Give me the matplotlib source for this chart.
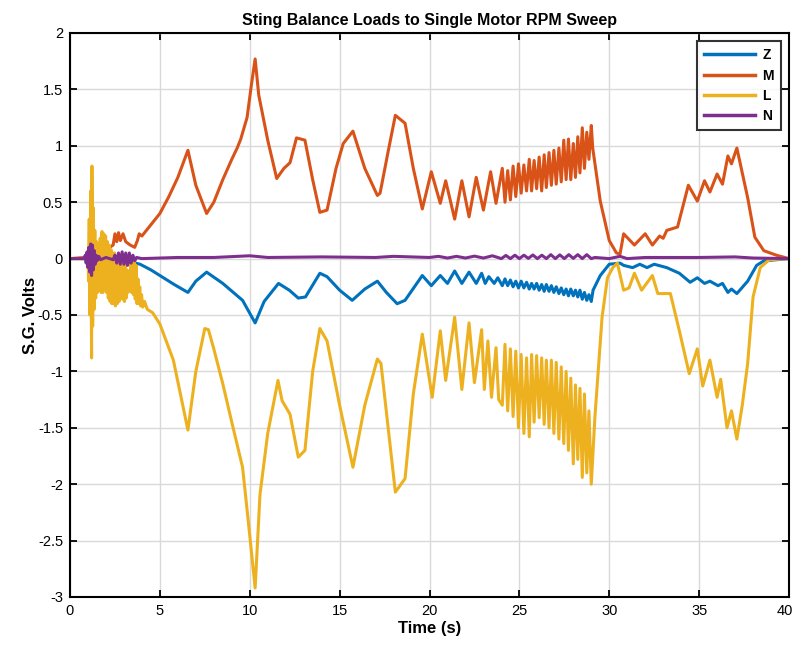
import matplotlib
matplotlib.use("Agg")
import matplotlib.pyplot as plt
from matplotlib.transforms import ScaledTranslation

# ---------------- data ----------------
Z_t = [0, 1.0, 1.1, 1.2, 1.3, 1.5, 2.2, 2.4, 3.0, 3.4, 3.9, 4.5, 5.0, 5.8, 6.56, 7.0, 7.6, 8.5, 9.6, 10.3,
       10.8, 11.6, 12.2, 12.7, 13.1, 13.9, 14.3, 15.0, 15.7, 16.4, 17.1, 17.6, 18.2, 18.64, 19.6, 20.1,
       20.6, 21.0, 21.4, 21.8, 22.2, 22.6, 22.9, 23.1, 23.3, 23.6, 23.8,
       24.05, 24.2, 24.35, 24.5, 24.65, 24.8, 24.95, 25.1, 25.25, 25.4, 25.55, 25.68, 25.82, 25.96,
       26.1, 26.24, 26.38, 26.5, 26.65, 26.78, 26.92, 27.05, 27.2, 27.33, 27.47, 27.6, 27.73, 27.86,
       28.0, 28.12, 28.25, 28.37, 28.5, 28.62, 28.75, 28.87, 29.0, 29.1, 29.5, 30.0, 30.6, 30.8, 31.3,
       31.7, 32.1, 32.5, 33.2, 33.9, 34.5, 34.9, 35.3, 35.6, 36.05, 36.3, 36.6, 36.8, 37.1, 37.7, 38.2,
       38.6, 39.3, 40]
Z_v = [0, 0.0, -0.04, 0.03, -0.02, 0.0, -0.01, -0.06, -0.06, -0.03, -0.05, -0.1, -0.15, -0.23, -0.3, -0.2,
       -0.12, -0.22, -0.37, -0.57, -0.38, -0.22, -0.28, -0.35, -0.34, -0.13, -0.16, -0.28, -0.37, -0.27,
       -0.2, -0.3, -0.4, -0.37, -0.15, -0.24, -0.15, -0.22, -0.11, -0.22, -0.12, -0.22, -0.13, -0.22,
       -0.16, -0.22, -0.17,
       -0.24, -0.18, -0.24, -0.19, -0.25, -0.2, -0.26, -0.2, -0.26, -0.21, -0.27, -0.22, -0.27, -0.22,
       -0.28, -0.23, -0.29, -0.23, -0.29, -0.24, -0.3, -0.25, -0.31, -0.26, -0.32, -0.27, -0.33, -0.27,
       -0.33, -0.28, -0.34, -0.28, -0.36, -0.3, -0.37, -0.32, -0.38, -0.28, -0.15, -0.05, -0.04, -0.06,
       -0.08, -0.05, -0.08, -0.05, -0.08, -0.13, -0.21, -0.17, -0.22, -0.2, -0.24, -0.22, -0.3, -0.27,
       -0.31, -0.2, -0.06, -0.02, -0.01, 0.0]

M_t = [0, 0.8, 1.0, 1.1, 1.2, 1.3, 1.4, 1.6, 1.9, 2.2, 2.4, 2.5, 2.6, 2.7, 2.8, 2.95, 3.1, 3.35, 3.6,
       3.75, 3.85, 4.0, 4.2, 4.5, 5.0, 5.5, 6.0, 6.56, 7.0, 7.6, 8.0, 8.5, 9.0, 9.3, 9.5, 9.85, 10.1,
       10.3, 10.5, 11.0, 11.5, 11.9, 12.24, 12.6, 13.07, 13.5, 13.9, 14.3, 14.8, 15.2, 15.74, 16.4,
       17.1, 17.25, 17.7, 18.1, 18.64, 19.1, 19.6, 20.1, 20.6, 20.9, 21.4, 21.8, 22.2, 22.6, 23.0,
       23.4, 23.7,
       24.05, 24.2, 24.35, 24.5, 24.65, 24.8, 24.95, 25.1, 25.25, 25.4, 25.55, 25.68, 25.82, 25.96,
       26.1, 26.24, 26.38, 26.5, 26.65, 26.78, 26.92, 27.05, 27.2, 27.33, 27.47, 27.6, 27.73, 27.86,
       28.0, 28.12, 28.25, 28.37, 28.5, 28.62, 28.75, 28.87, 29.0, 29.08, 29.5, 30.0, 30.4, 30.6,
       30.8, 31.4, 32.0, 32.4, 32.8, 33.0, 33.2, 33.8, 34.4, 34.9, 35.3, 35.6, 36.0, 36.3, 36.6,
       36.8, 37.1, 37.7, 38.1, 38.6, 39.3, 40]
M_v = [0, 0.01, 0.05, -0.08, 0.1, -0.05, 0.03, 0.02, 0.05, 0.1, 0.12, 0.22, 0.15, 0.23, 0.16, 0.22,
       0.15, 0.12, 0.1, 0.16, 0.22, 0.2, 0.24, 0.3, 0.4, 0.55, 0.72, 0.96, 0.65, 0.4, 0.5, 0.7, 0.88,
       0.98, 1.06, 1.25, 1.55, 1.77, 1.45, 1.05, 0.71, 0.8, 0.85, 1.07, 1.05, 0.7, 0.41, 0.43, 0.8,
       1.02, 1.13, 0.8, 0.56, 0.58, 0.95, 1.27, 1.2, 0.8, 0.44, 0.77, 0.49, 0.69, 0.35, 0.69, 0.37,
       0.72, 0.43, 0.77, 0.49,
       0.8, 0.5, 0.78, 0.52, 0.82, 0.55, 0.84, 0.58, 0.83, 0.6, 0.88, 0.6, 0.87, 0.62, 0.9, 0.6,
       0.92, 0.63, 0.94, 0.65, 0.96, 0.66, 0.98, 0.68, 1.05, 0.7, 1.06, 0.7, 1.02, 0.72, 1.08, 0.76,
       1.16, 0.8, 1.12, 0.88, 1.18, 0.98, 0.51, 0.16, 0.05, 0.04, 0.22, 0.12, 0.22, 0.12, 0.2, 0.18,
       0.25, 0.28, 0.65, 0.51, 0.69, 0.59, 0.75, 0.66, 0.91, 0.84, 0.98, 0.54, 0.19, 0.07, 0.03, 0.0]

L_t = [0, 0.9, 1.0, 1.03, 1.07, 1.1, 1.15, 1.2, 1.22, 1.26, 1.3, 1.34, 1.38, 1.43, 1.48, 1.53, 1.58,
       1.63, 1.68, 1.73, 1.78, 1.83, 1.88, 1.93, 1.98, 2.03, 2.08, 2.13, 2.18, 2.23, 2.28, 2.33, 2.38,
       2.43, 2.48, 2.53, 2.58, 2.63, 2.68, 2.73, 2.78, 2.83, 2.88, 2.93, 2.98, 3.03, 3.08, 3.13, 3.18,
       3.23, 3.28, 3.33, 3.38, 3.43, 3.48, 3.53, 3.58, 3.63, 3.68, 3.73, 3.78, 3.83, 3.88, 3.93, 3.98,
       4.05, 4.15, 4.3, 4.6, 5.0, 5.4, 5.75, 6.1, 6.56, 7.0, 7.5, 7.7, 8.0, 8.5, 9.0, 9.6, 9.9, 10.3,
       10.57, 11.0, 11.57, 11.8, 12.24, 12.7, 13.07, 13.5, 13.9, 14.3, 15.0, 15.74, 16.4, 17.1, 17.3,
       17.7, 18.1, 18.64, 19.1, 19.6, 20.15, 20.6, 20.9, 21.4, 21.8, 22.2, 22.5, 22.9, 23.05, 23.25,
       23.45, 23.7, 23.85,
       24.05, 24.2, 24.35, 24.5, 24.65, 24.8, 24.95, 25.1, 25.25, 25.4, 25.55, 25.68, 25.82, 25.96,
       26.1, 26.24, 26.38, 26.5, 26.65, 26.78, 26.92, 27.05, 27.2, 27.33, 27.47, 27.6, 27.73, 27.86,
       28.0, 28.12, 28.25, 28.37, 28.5, 28.62, 28.75, 28.87, 29.0, 29.2, 29.4, 29.6, 29.9, 30.2,
       30.45, 30.8, 31.1, 31.4, 31.8, 32.4, 32.7, 33.4, 33.9, 34.45, 34.9, 35.2, 35.6, 36.0, 36.2,
       36.55, 36.8, 37.1, 37.4, 37.7, 38.0, 38.4, 38.9, 40]
L_v = [0, 0.0, 0.05, -0.2, 0.35, -0.5, 0.6, -0.88, 0.82, -0.6, 0.45, -0.45, 0.25, -0.35, 0.15, -0.3,
       0.12, -0.28, 0.18, -0.3, 0.24, -0.3, 0.22, -0.27, 0.2, -0.3, 0.15, -0.35, 0.12, -0.38, 0.08,
       -0.4, 0.05, -0.4, 0.05, -0.42, 0.02, -0.4, 0.0, -0.38, 0.0, -0.35, -0.02, -0.36, -0.05, -0.38,
       -0.05, -0.35, -0.1, -0.3, -0.15, -0.28, -0.05, -0.3, 0.0, -0.32, -0.02, -0.36, -0.06, -0.4,
       -0.18, -0.4, -0.25, -0.42, -0.32, -0.43, -0.38, -0.45, -0.48, -0.58, -0.75, -0.9, -1.17, -1.52,
       -1.0, -0.62, -0.63, -0.8, -1.11, -1.45, -1.85, -2.3, -2.92, -2.09, -1.55, -1.08, -1.26, -1.38,
       -1.76, -1.7, -1.0, -0.62, -0.73, -1.3, -1.85, -1.3, -0.89, -0.93, -1.5, -2.07, -1.95, -1.2,
       -0.67, -1.23, -0.64, -1.08, -0.52, -1.16, -0.57, -1.1, -0.63, -1.16, -0.73, -1.23, -0.79, -1.25,
       -1.3, -0.76, -1.35, -0.8, -1.4, -0.82, -1.5, -0.85, -1.55, -0.88, -1.58, -0.85, -1.45, -0.86,
       -1.41, -0.88, -1.47, -0.9, -1.5, -0.9, -1.55, -0.92, -1.6, -0.96, -1.64, -1.0, -1.7, -1.06,
       -1.82, -1.12, -1.78, -1.15, -1.94, -1.2, -1.9, -1.35, -2.0, -1.41, -0.96, -0.52, -0.17, -0.08,
       -0.04, -0.28, -0.26, -0.13, -0.28, -0.15, -0.31, -0.31, -0.64, -1.02, -0.8, -1.13, -0.9, -1.23,
       -1.07, -1.5, -1.35, -1.6, -1.3, -0.93, -0.34, -0.08, -0.01, 0.0]

N_t = [0, 0.8, 0.85, 0.9, 0.95, 1.0, 1.05, 1.1, 1.15, 1.2, 1.25, 1.3, 1.35, 1.4, 1.45, 1.5, 1.6, 1.7,
       2.0, 2.4, 2.5, 2.6, 2.7, 2.8, 2.9, 3.0, 3.1, 3.2, 3.3, 3.4, 3.5, 3.6, 3.7, 4.0, 6.0, 8.0, 10.0,
       11.0, 14.0, 17.0, 18.0, 20.0, 20.5, 21.0, 21.5, 22.0, 22.5, 23.0, 23.5, 24.0, 24.25, 24.5,
       24.75, 25.0, 25.25, 25.5, 25.75, 26.0, 26.25, 26.5, 26.75, 27.0, 27.25, 27.5, 27.75, 28.0,
       28.25, 28.5, 28.75, 29.0, 29.2, 30.0, 30.6, 31.0, 32.0, 35.0, 37.0, 38.0, 40]
N_v = [0, 0.0, 0.03, -0.04, 0.06, -0.08, 0.1, -0.12, 0.13, -0.15, 0.12, -0.1, 0.07, -0.05, 0.03,
       -0.02, 0.02, -0.01, 0.01, -0.01, 0.03, -0.04, 0.05, -0.05, 0.06, -0.05, 0.05, -0.06, 0.05, -0.04,
       0.03, -0.02, 0.01, 0.0, 0.01, 0.01, 0.025, 0.01, 0.015, 0.01, 0.02, 0.01, 0.02, 0.005, 0.02,
       0.005, 0.022, 0.005, 0.025, 0.0, 0.028, 0.0, 0.03, 0.0, 0.03, 0.002, 0.032, 0.0, 0.03, 0.0,
       0.035, 0.0, 0.033, 0.0, 0.035, 0.002, 0.035, 0.0, 0.035, 0.0, 0.01, 0.0, 0.02, 0.0, 0.01, 0.01,
       0.015, 0.005, 0.0]

series_names = ["Z", "M", "L", "N"]
series_colors = ["#0072BD", "#D95319", "#EDB120", "#7E2F8E"]

x_ticks = [0, 5, 10, 15, 20, 25, 30, 35, 40]
y_ticks = [-3, -2.5, -2, -1.5, -1, -0.5, 0, 0.5, 1, 1.5, 2]
y_tick_labels = ["-3", "-2.5", "-2", "-1.5", "-1", "-0.5", "0", "0.5", "1", "1.5", "2"]

# ---------------- figure ----------------
plt.rcParams['font.family'] = ['Liberation Sans', 'DejaVu Sans']
fig = plt.figure(figsize=(7.95, 6.47), dpi=100)
ax = fig.add_axes([70/795, 1-597/647, (789-70)/795, (597-33)/647])

data = [(Z_t, Z_v), (M_t, M_v), (L_t, L_v), (N_t, N_v)]
for (t, v), name, c in zip(data, series_names, series_colors):
    ax.plot(t, v, color=c, lw=2.2, label=name, solid_joinstyle='round')

ax.set_xlim(0, 40)
ax.set_ylim(-3, 2)
ax.set_xticks(x_ticks)
ax.set_yticks(y_ticks)
ax.set_yticklabels(y_tick_labels)
ax.grid(True, color='#d9d9d9', lw=1.0)
ax.set_axisbelow(True)
ax.tick_params(direction='in', length=5, width=1.3, top=True, right=True,
               labelsize=10.5, colors='black', pad=5)
for s in ax.spines.values():
    s.set_linewidth(1.5)
    s.set_color('black')

# keep the last x tick label ("40") inside the canvas
fig.canvas.draw()
last_lbl = ax.get_xticklabels()[-1]
last_lbl.set_transform(last_lbl.get_transform() + ScaledTranslation(-4/100, 0, fig.dpi_scale_trans))

ax.set_title("Sting Balance Loads to Single Motor RPM Sweep", fontsize=11.5,
             fontweight='bold', pad=6)
ax.set_xlabel("Time (s)", fontsize=12, fontweight='bold', labelpad=2)
ax.set_ylabel("S.G. Volts", fontsize=12, fontweight='bold', labelpad=0)

leg = ax.legend(loc='upper right', fontsize=10, handlelength=3.7, frameon=True,
                fancybox=False, edgecolor='black', borderaxespad=0.6,
                labelspacing=0.45, handletextpad=0.5, borderpad=0.5)
leg.get_frame().set_linewidth(1.5)
for txt in leg.get_texts():
    txt.set_fontweight('bold')
for line in leg.get_lines():
    line.set_linewidth(2.5)

fig.savefig("out.png", dpi=100)
